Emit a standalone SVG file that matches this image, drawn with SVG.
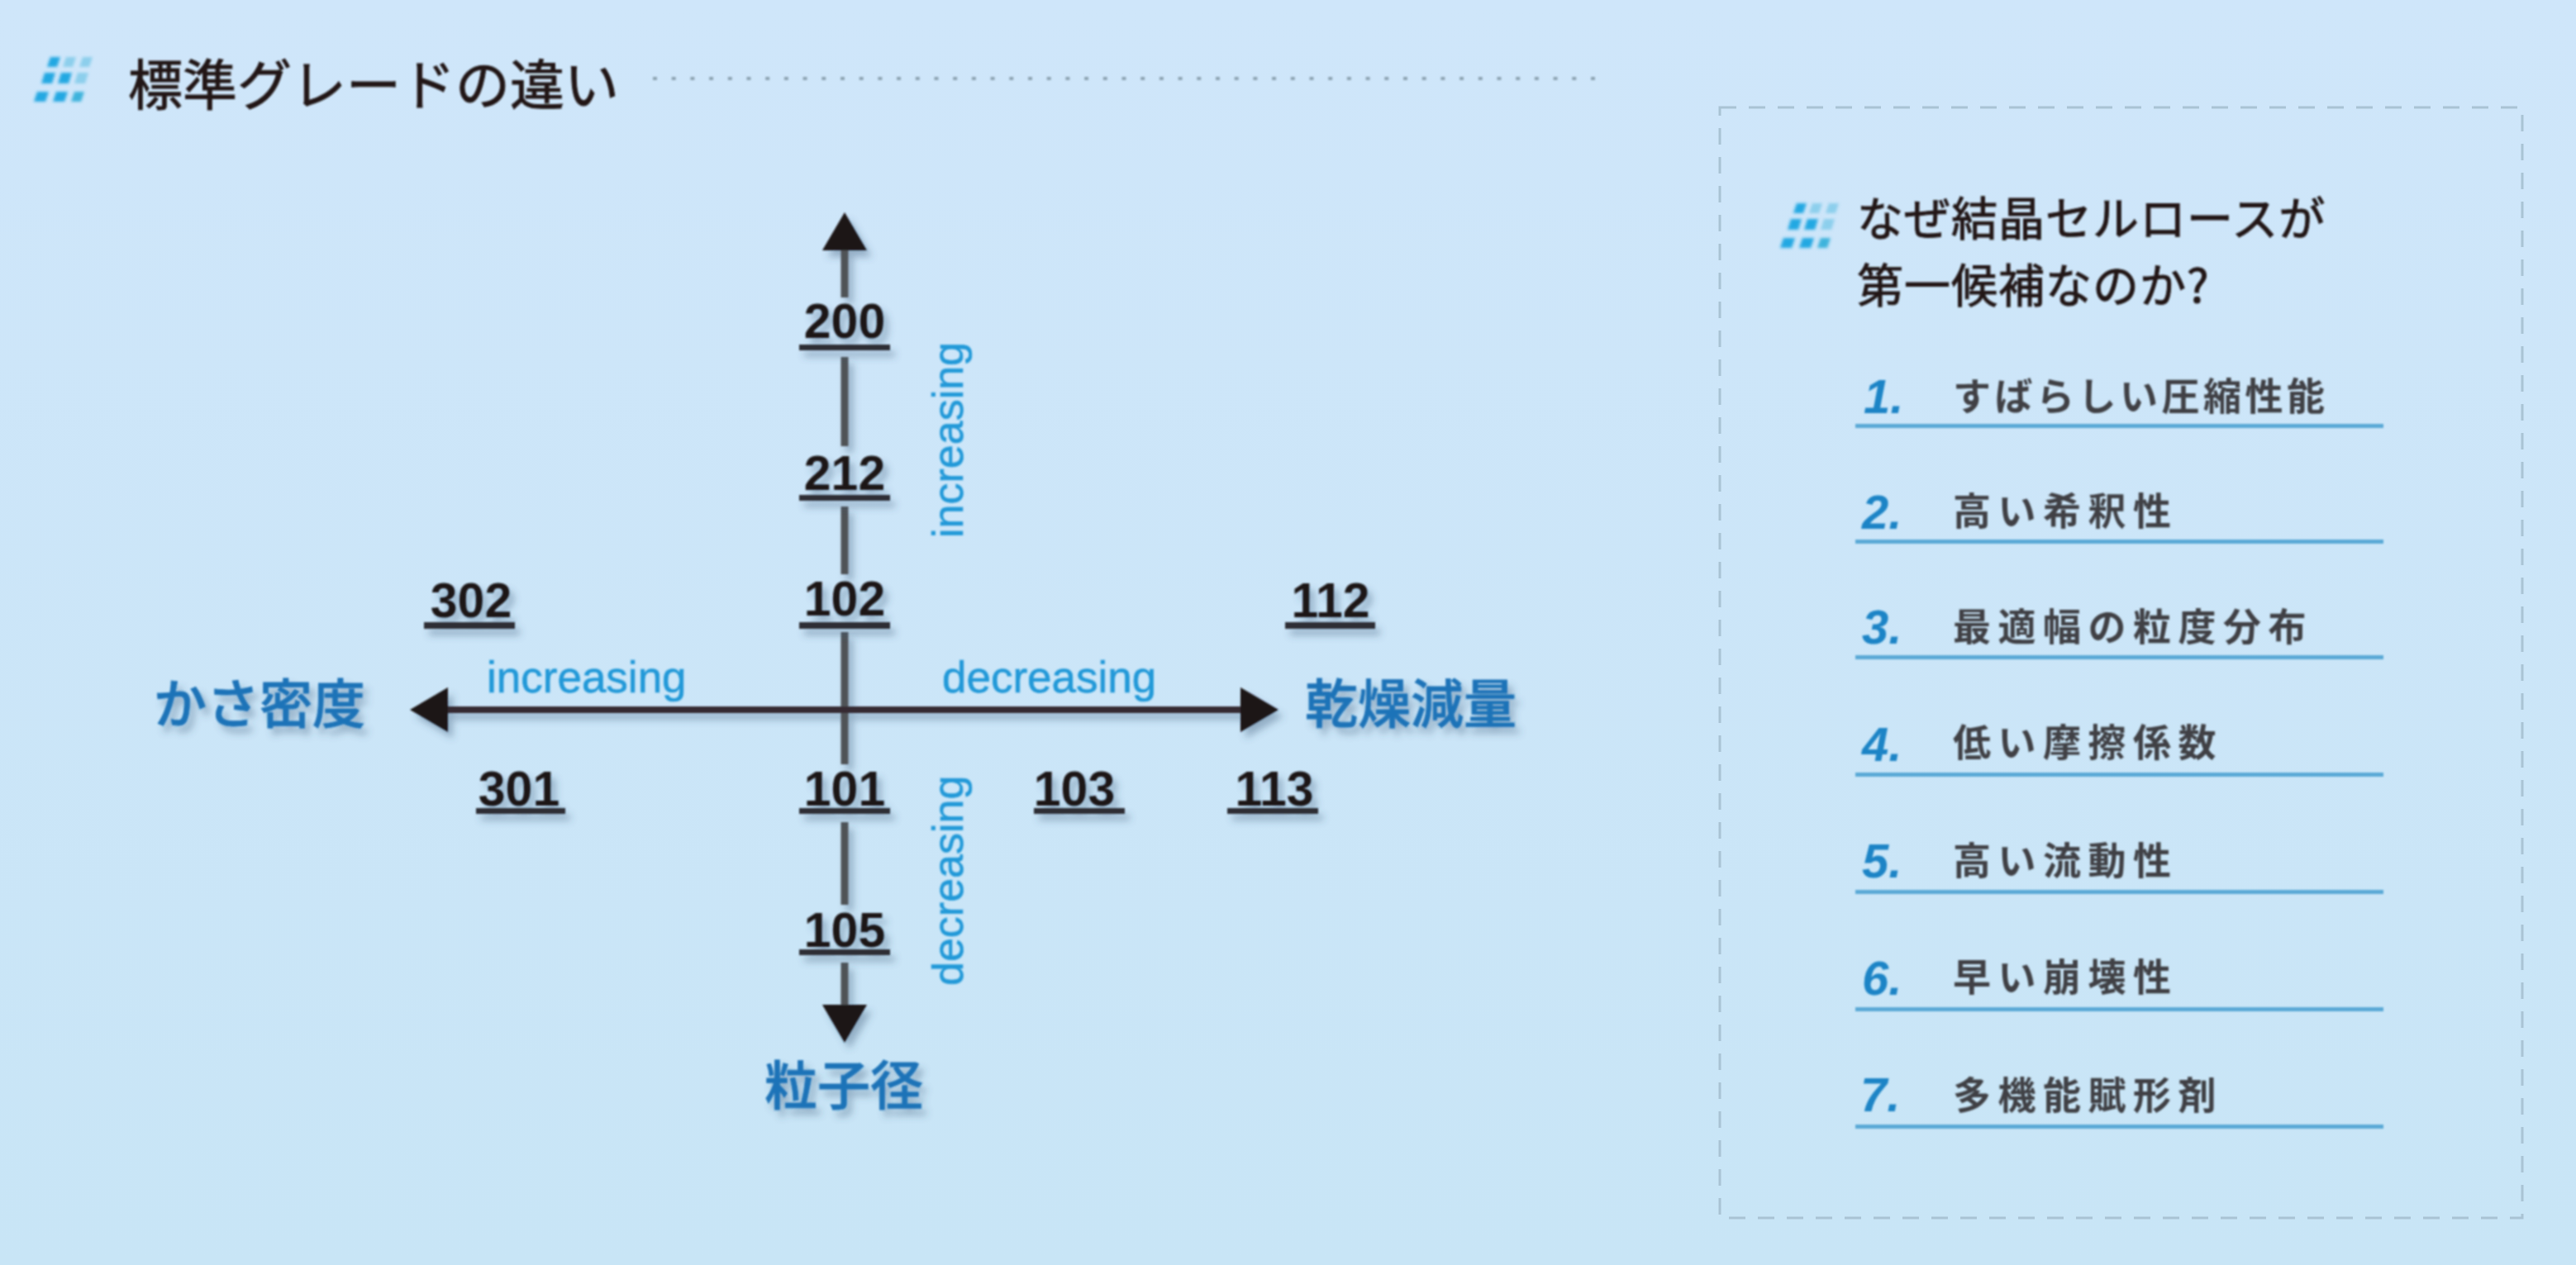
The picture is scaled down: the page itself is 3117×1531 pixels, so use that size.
<svg xmlns="http://www.w3.org/2000/svg" width="3117" height="1531" viewBox="0 0 3117 1531">
<style>
text{font-family:"Noto Sans CJK JP","Liberation Sans",sans-serif}
.num{font-family:"Liberation Sans",sans-serif;font-size:59px;font-weight:700;fill:#1c1414;text-anchor:middle}
.ul{fill:#2f2d35}
.inc{font-family:"Liberation Sans",sans-serif;font-size:53px;fill:#2299d8;stroke:#2299d8;stroke-width:0.6px}
.axis{font-size:64px;font-weight:500;fill:#1f73b8;stroke:#1f73b8;stroke-width:0.8px}
.seg{stroke:#4f5357;stroke-width:9}
.hseg{stroke:#352c30;stroke-width:8}
.idx{font-family:"Liberation Sans",sans-serif;font-size:58px;font-weight:700;font-style:italic;fill:#1d84c6}
.item{font-size:46px;letter-spacing:8.5px;fill:#3f4145;font-weight:700}
.rule{fill:#5aa9d6}
.head{font-size:56px;letter-spacing:1px;fill:#231815;stroke:#231815;stroke-width:1px}
.title{font-size:66px;fill:#231815;stroke:#231815;stroke-width:1px}
</style>
<defs>
<linearGradient id="bg" x1="0" y1="0" x2="0" y2="1"><stop offset="0" stop-color="#cfe6fa"/><stop offset="1" stop-color="#c8e5f6"/></linearGradient>
<filter id="shadow" x="-30%" y="-30%" width="160%" height="160%"><feGaussianBlur in="SourceGraphic" stdDeviation="0.8" result="s"/><feDropShadow in="s" dx="6" dy="8" stdDeviation="4" flood-color="#3a5575" flood-opacity="0.38"/></filter>
<filter id="soft" x="-5%" y="-5%" width="110%" height="110%"><feGaussianBlur stdDeviation="0.8"/></filter>
<filter id="icon-blur" x="-10%" y="-10%" width="120%" height="120%"><feGaussianBlur stdDeviation="1.6"/></filter>
<marker id="head" markerUnits="userSpaceOnUse" markerWidth="46" markerHeight="54" viewBox="0 0 46 54" refX="0" refY="27" orient="auto"><polygon points="0,0 46,27 0,54" fill="#1f1413"/></marker>
<g id="icon" filter="url(#icon-blur)"><g fill="#8ccfec"><path d="M100 69h12l-4 12h-12z"/><path d="M80 69h12l-4 12h-12z"/><path d="M94 88h13l-4 13h-13z"/><path d="M90 111h12l-4 12h-12z" fill="#3db3dc"/></g><g fill="#22a8e2"><path d="M61 69h12l-4 12h-12z"/><path d="M54 88h13l-4 13h-13z"/><path d="M74 88h13l-4 13h-13z"/><path d="M45 111h14l-4 12h-14z"/><path d="M68 111h14l-4 12h-14z"/></g></g>
</defs>
<rect width="3117" height="1531" fill="url(#bg)"/>
<g id="title" filter="url(#soft)">
<use href="#icon"/>
<text class="title" x="155" y="127">標準グレードの違い</text>
<line x1="790" y1="95" x2="1940" y2="95" stroke="#8ea4b3" stroke-width="4" stroke-dasharray="5 17.7"/>
</g>
<g id="connectors" filter="url(#shadow)">
<line class="seg" x1="1022" y1="360" x2="1022" y2="303" marker-end="url(#head)"/>
<line class="seg" x1="1022" y1="540" x2="1022" y2="432"/>
<line class="seg" x1="1022" y1="695" x2="1022" y2="613"/>
<line class="seg" x1="1022" y1="925" x2="1022" y2="765"/>
<line class="seg" x1="1022" y1="1095" x2="1022" y2="995"/>
<line class="seg" x1="1022" y1="1165" x2="1022" y2="1216" marker-end="url(#head)"/>
<line class="hseg" x1="1022" y1="859" x2="542" y2="859" marker-end="url(#head)"/>
<line class="hseg" x1="1022" y1="859" x2="1501" y2="859" marker-end="url(#head)"/>
</g>
<g id="n200" filter="url(#shadow)"><text class="num" x="1022" y="409">200</text><rect class="ul" x="967" y="417" width="110" height="7"/></g>
<g id="n212" filter="url(#shadow)"><text class="num" x="1022" y="593">212</text><rect class="ul" x="967" y="599" width="110" height="7"/></g>
<g id="n102" filter="url(#shadow)"><text class="num" x="1022" y="745">102</text><rect class="ul" x="967" y="753" width="110" height="8"/></g>
<g id="n302" filter="url(#shadow)"><text class="num" x="570" y="747">302</text><rect class="ul" x="513" y="753" width="110" height="8"/></g>
<g id="n112" filter="url(#shadow)"><text class="num" x="1610" y="747">112</text><rect class="ul" x="1555" y="753" width="109" height="8"/></g>
<g id="n101" filter="url(#shadow)"><text class="num" x="1022" y="975">101</text><rect class="ul" x="967" y="978" width="110" height="7"/></g>
<g id="n301" filter="url(#shadow)"><text class="num" x="628" y="975">301</text><rect class="ul" x="576" y="978" width="108" height="7"/></g>
<g id="n103" filter="url(#shadow)"><text class="num" x="1300" y="975">103</text><rect class="ul" x="1251" y="978" width="110" height="7"/></g>
<g id="n113" filter="url(#shadow)"><text class="num" x="1542" y="975">113</text><rect class="ul" x="1485" y="978" width="110" height="7"/></g>
<g id="n105" filter="url(#shadow)"><text class="num" x="1022" y="1146">105</text><rect class="ul" x="967" y="1149" width="110" height="7"/></g>
<g id="axis-bulk" filter="url(#shadow)"><text class="axis" x="186" y="875">かさ密度</text></g>
<g id="axis-loss" filter="url(#shadow)"><text class="axis" x="1579" y="875">乾燥減量</text></g>
<g id="axis-size" filter="url(#shadow)"><text class="axis" x="925" y="1337" font-size="64">粒子径</text></g>
<g id="dir-labels" filter="url(#soft)">
<text class="inc" x="589" y="838">increasing</text>
<text class="inc" x="1140" y="838">decreasing</text>
<text class="inc" style="font-size:52px" transform="translate(1165 651) rotate(-90)">increasing</text>
<text class="inc" style="font-size:52px" transform="translate(1165 1193) rotate(-90)">decreasing</text>
</g>
<g id="panel">
<rect x="2081" y="130" width="971" height="1344" fill="none" stroke="#a9c3d4" stroke-width="3" stroke-dasharray="20 15"/>
<g filter="url(#soft)">
<use href="#icon" transform="translate(2113 177)"/>
<text class="head" x="2247" y="285">なぜ結晶セルロースが</text>
<text class="head" x="2247" y="366">第一候補なのか?</text>
</g>
</g>
<g id="item1" filter="url(#soft)"><text class="idx" x="2255" y="500">1.</text><text class="item" x="2363" y="496" style="letter-spacing:4.5px">すばらしい圧縮性能</text><rect class="rule" x="2245" y="513" width="639" height="5"/></g>
<g id="item2" filter="url(#soft)"><text class="idx" x="2253" y="640">2.</text><text class="item" x="2363" y="635">高い希釈性</text><rect class="rule" x="2245" y="653" width="639" height="5"/></g>
<g id="item3" filter="url(#soft)"><text class="idx" x="2253" y="779">3.</text><text class="item" x="2363" y="775">最適幅の粒度分布</text><rect class="rule" x="2245" y="793" width="639" height="5"/></g>
<g id="item4" filter="url(#soft)"><text class="idx" x="2253" y="921">4.</text><text class="item" x="2363" y="915">低い摩擦係数</text><rect class="rule" x="2245" y="935" width="639" height="5"/></g>
<g id="item5" filter="url(#soft)"><text class="idx" x="2253" y="1062">5.</text><text class="item" x="2363" y="1058">高い流動性</text><rect class="rule" x="2245" y="1077" width="639" height="5"/></g>
<g id="item6" filter="url(#soft)"><text class="idx" x="2253" y="1204">6.</text><text class="item" x="2363" y="1199">早い崩壊性</text><rect class="rule" x="2245" y="1219" width="639" height="5"/></g>
<g id="item7" filter="url(#soft)"><text class="idx" x="2251" y="1345">7.</text><text class="item" x="2363" y="1342">多機能賦形剤</text><rect class="rule" x="2245" y="1361" width="639" height="5"/></g>
</svg>
